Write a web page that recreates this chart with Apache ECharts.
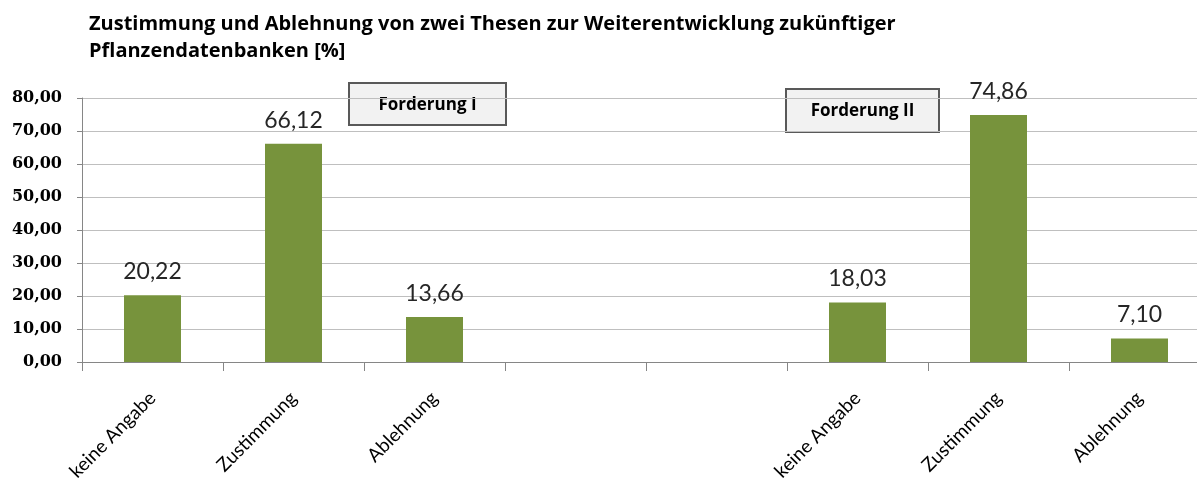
<!DOCTYPE html>
<html><head><meta charset="utf-8">
<script src="https://cdn.jsdelivr.net/npm/echarts@6/dist/echarts.min.js"></script>
<style>html,body{margin:0;padding:0;background:#fff;overflow:hidden;width:1197px;height:481px}#c{width:1210px;height:481px}</style>
</head><body><div id="c"></div>
<script>
const titleText = 'Zustimmung und Ablehnung von zwei Thesen zur Weiterentwicklung zukünftiger\nPflanzendatenbanken [%]';
const categories = ['keine Angabe', 'Zustimmung', 'Ablehnung', '', '', 'keine Angabe', 'Zustimmung', 'Ablehnung'];
const values = [20.22, 66.12, 13.66, null, null, 18.03, 74.86, 7.10];
const yTicks = [0, 10, 20, 30, 40, 50, 60, 70, 80];
const groupLabels = ['Forderung I', 'Forderung II'];

const fmt = v => Number(v).toFixed(2).replace('.', ',');
const chart = echarts.init(document.getElementById('c'));
chart.setOption({
  animation: false,
  backgroundColor: '#ffffff',
  title: {
    text: titleText, left: 84, top: 6,
    textStyle: { fontFamily: 'Open Sans', fontWeight: 'bold', fontSize: 20, lineHeight: 27, color: '#000' }
  },
  grid: { left: 82, right: 0, top: 98, bottom: 119, containLabel: false, outerBoundsMode: 'none' },
  xAxis: {
    type: 'category', data: categories, boundaryGap: true,
    axisLine: { lineStyle: { color: '#868686' } },
    axisTick: { show: true, length: 9, interval: 0, lineStyle: { color: '#868686' } },
    axisLabel: { interval: 0, rotate: 45, margin: 33, fontFamily: 'Lato', fontSize: 19, color: '#000' }
  },
  yAxis: {
    type: 'value', min: yTicks[0], max: yTicks[yTicks.length - 1], interval: 10,
    axisLine: { show: true, lineStyle: { color: '#868686' } },
    axisTick: { show: true, length: 5, lineStyle: { color: '#868686' } },
    splitLine: { lineStyle: { color: '#bfbfbf' } },
    axisLabel: { formatter: fmt, margin: 20, fontFamily: 'DejaVu Serif', fontWeight: 'bold', fontSize: 16, color: '#000' }
  },
  series: [{
    type: 'bar', data: values, barWidth: 57,
    itemStyle: { color: '#77933c' },
    label: { show: true, position: 'top', distance: 12, formatter: p => fmt(p.value),
      fontFamily: 'Lato', fontSize: 23, color: '#262626' }
  }],
  graphic: [
    { type: 'group', left: 348, top: 82, children: [
      { type: 'rect', shape: { x: 0, y: 0, width: 157, height: 42 }, style: { fill: '#f2f2f2', stroke: '#595959', lineWidth: 2 } },
      { type: 'text', x: 78.5, y: 22, style: { text: groupLabels[0], align: 'center', verticalAlign: 'middle', font: 'bold 17px "Open Sans"', fill: '#000' } }
    ]},
    { type: 'group', left: 785, top: 88, children: [
      { type: 'rect', shape: { x: 0, y: 0, width: 153, height: 43 }, style: { fill: '#f2f2f2', stroke: '#595959', lineWidth: 2 } },
      { type: 'text', x: 76.5, y: 22, style: { text: groupLabels[1], align: 'center', verticalAlign: 'middle', font: 'bold 17px "Open Sans"', fill: '#000' } }
    ]}
  ]
});
</script></body></html>
